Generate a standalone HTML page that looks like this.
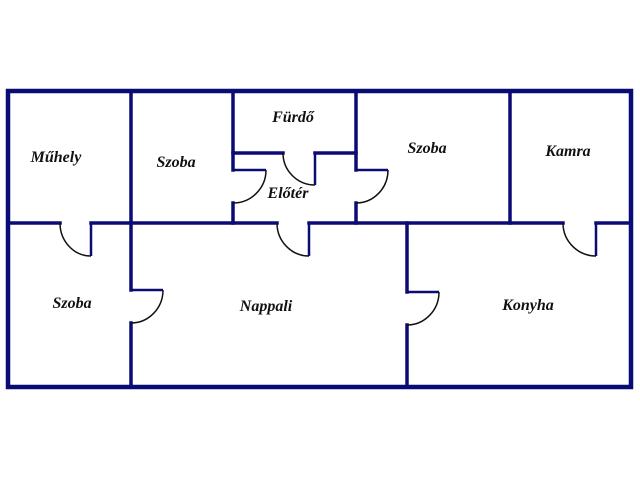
<!DOCTYPE html>
<html><head><meta charset="utf-8"><style>
html,body{margin:0;padding:0;background:#fff;}
svg{display:block;}
text{font-family:"Liberation Serif",serif;font-weight:bold;font-style:italic;font-size:16px;fill:#111;text-anchor:middle;}
</style></head><body>
<svg width="640" height="480" viewBox="0 0 640 480">
<g stroke="#0b0b75" stroke-width="3.5" fill="none" stroke-linecap="square">
<rect x="8" y="91" width="623" height="296" stroke-width="4.5"/>
<line x1="8" y1="223" x2="60" y2="223"/>
<line x1="91" y1="223" x2="277" y2="223"/>
<line x1="309" y1="223" x2="563" y2="223"/>
<line x1="596" y1="223" x2="631" y2="223"/>
<line x1="131" y1="91" x2="131" y2="290"/>
<line x1="131" y1="323" x2="131" y2="387"/>
<line x1="233" y1="91" x2="233" y2="170"/>
<line x1="233" y1="203" x2="233" y2="223"/>
<line x1="356" y1="91" x2="356" y2="170"/>
<line x1="356" y1="203" x2="356" y2="223"/>
<line x1="510" y1="91" x2="510" y2="223"/>
<line x1="233" y1="153" x2="283" y2="153"/>
<line x1="315" y1="153" x2="356" y2="153"/>
<line x1="407" y1="223" x2="407" y2="292"/>
<line x1="407" y1="325" x2="407" y2="387"/>
</g>
<g stroke="#0b0b75" stroke-width="2.5" fill="none">
<line x1="91" y1="223" x2="91" y2="256"/>
<line x1="309" y1="223" x2="309" y2="256"/>
<line x1="596" y1="223" x2="596" y2="256"/>
<line x1="315" y1="153" x2="315" y2="185"/>
<line x1="233" y1="170" x2="266" y2="170"/>
<line x1="356" y1="170" x2="388" y2="170"/>
<line x1="131" y1="290" x2="163" y2="290"/>
<line x1="407" y1="292" x2="439" y2="292"/>
</g>
<g stroke="#111" stroke-width="1.5" fill="none">
<path d="M60 223 A31 33 0 0 0 91 256"/>
<path d="M277 223 A32 33 0 0 0 309 256"/>
<path d="M563 223 A33 33 0 0 0 596 256"/>
<path d="M283 153 A32 32 0 0 0 315 185"/>
<path d="M266 170 A33 33 0 0 1 233 203"/>
<path d="M388 170 A32 33 0 0 1 356 203"/>
<path d="M163 290 A32 33 0 0 1 131 323"/>
<path d="M439 292 A32 33 0 0 1 407 325"/>
</g>
<text x="56" y="162">Műhely</text>
<text x="176" y="167">Szoba</text>
<text x="293" y="122">Fürdő</text>
<text x="288" y="198">Előtér</text>
<text x="427" y="153">Szoba</text>
<text x="568" y="156">Kamra</text>
<text x="72" y="308">Szoba</text>
<text x="266" y="311">Nappali</text>
<text x="528" y="310">Konyha</text>
</svg>
</body></html>
